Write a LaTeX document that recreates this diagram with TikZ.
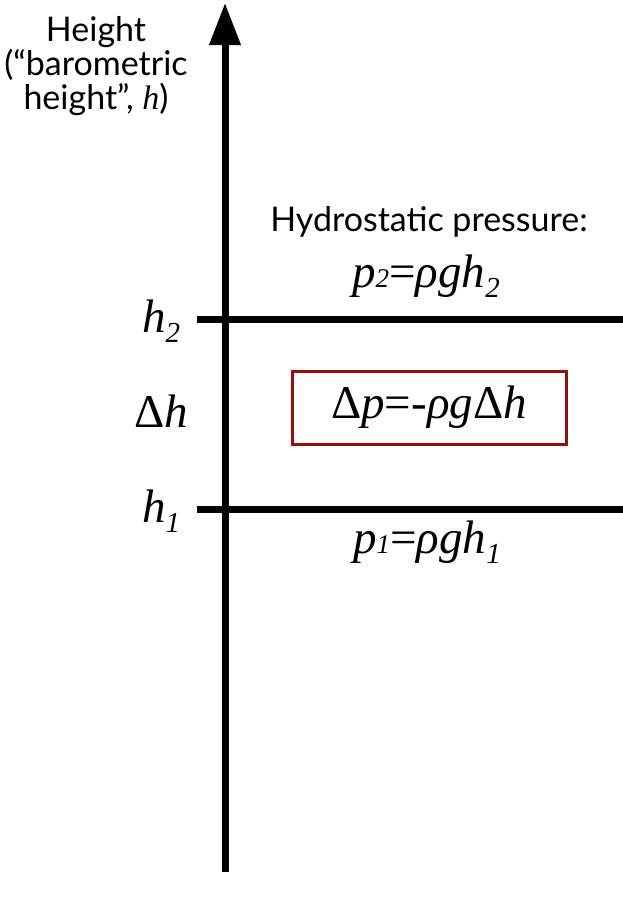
\documentclass[tikz,border=0pt]{standalone}
\usepackage{fontspec}
\setmainfont{Liberation Serif}
\newfontfamily\gillish{Lato}
\usetikzlibrary{arrows.meta,positioning}
\usepackage{xcolor}
\definecolor{boxred}{RGB}{140,22,12}

\newcommand{\hsub}[2]{\textit{#1}\raisebox{-0.22em}{\fontsize{29}{29}\selectfont\textit{#2}}}
\newcommand{\psmall}[2]{\textit{#1}{\fontsize{27}{27}\selectfont\textit{#2}}}

\begin{document}
\begin{tikzpicture}[
    x=1pt, y=-1pt,
    axis/.style={line width=7pt},
    level/.style={line width=7pt},
    sym/.style={font=\fontsize{47}{47}\selectfont, anchor=base, inner sep=0pt},
    caption/.style={font=\gillish\fontsize{34}{34}\selectfont, align=center, inner sep=0pt},
    result/.style={draw=boxred, line width=3pt, minimum width=274pt, minimum height=73pt, inner sep=0pt, font=\fontsize{47}{47}\selectfont}
]
    \useasboundingbox (0,0) rectangle (623,900);

    % height axis
    \coordinate (bottom) at (225,872);
    \coordinate (top) at (225,3);
    \draw[axis, -{Triangle[length=42pt,width=30pt]}] (bottom) -- (top);

    % the two levels
    \coordinate (h2start) at (197,319);
    \coordinate (h2end) at (623,319);
    \coordinate (h1start) at (197,509);
    \coordinate (h1end) at (623,509);
    \draw[level] (h2start) -- (h2end);
    \draw[level] (h1start) -- (h1end);

    \node[caption] (ylabel) at (96,66) {Height\\(“barometric\\height”, {\rmfamily\itshape h})};

    \node[sym] (htwo) at (161,332) {\hsub{h}{2}};
    \node[sym] (dh) at (161,427) {Δ\textit{h}};
    \node[sym] (hone) at (161,522) {\hsub{h}{1}};

    \node[caption, anchor=base] (hydro) at (429,231) {Hydrostatic pressure:};
    \node[sym] (ptwo) at (426,287) {\psmall{p}{2}=\textit{ρg}\hsub{h}{2}};
    \node[result] (dp) at (429,407.5) {Δ\textit{p}=-\textit{ρg}Δ\textit{h}};
    \node[sym] (pone) at (427,553) {\psmall{p}{1}=\textit{ρg}\hsub{h}{1}};
\end{tikzpicture}
\end{document}
